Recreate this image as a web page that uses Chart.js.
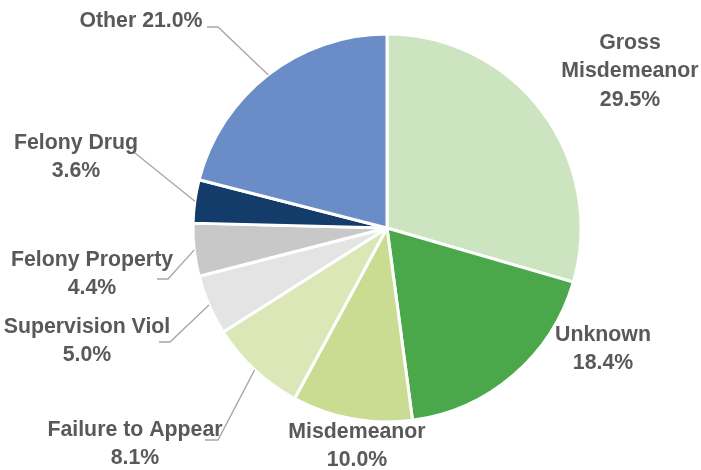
<!DOCTYPE html>
<html lang="en">
<head>
  <meta charset="UTF-8">
  <title>Offense Types</title>
  <script src="https://cdn.jsdelivr.net/npm/chart.js"></script>
  <style>
    body { margin: 0; background: #fff; }
    #wrap { width: 701px; height: 470px; }
  </style>
</head>
<body>
  <div id="wrap"><canvas id="pie" width="701" height="470"></canvas></div>

  <script>
    const categories = ['Gross Misdemeanor', 'Unknown', 'Misdemeanor', 'Failure to Appear',
                        'Supervision Viol', 'Felony Property', 'Felony Drug', 'Other'];
    const shares = [29.5, 18.4, 10.0, 8.1, 5.0, 4.4, 3.6, 21.0];
    const sliceColors = ['#cce5c0', '#4aa84b', '#c9dc91', '#dbe7b7',
                         '#e4e4e4', '#c8c8c8', '#133c6a', '#6a8cc7'];

    // label text lines, label centre (x, first line y), leader elbow/end (or null)
    const labelLines = [
      ['Gross', 'Misdemeanor', '29.5%'],
      ['Unknown', '18.4%'],
      ['Misdemeanor', '10.0%'],
      ['Failure to Appear', '8.1%'],
      ['Supervision Viol', '5.0%'],
      ['Felony Property', '4.4%'],
      ['Felony Drug', '3.6%'],
      ['Other 21.0%']
    ];
    const labelPos = [[630, 43], [603, 335], [357, 432], [135, 430],
                      [87, 327], [92, 260], [76, 143], [141, 21]];
    const leaders = [null, null, null,
                     [[218, 440], [205, 440]],
                     [[170, 342], [159, 342]],
                     [[168, 279], [157, 279]],
                     [[135, 153]],
                     [[218, 27], [207, 27]]];

    const labelPlugin = {
      id: 'pieLabels',
      afterDatasetsDraw(chart) {
        const ctx = chart.ctx;
        const arcs = chart.getDatasetMeta(0).data;
        ctx.save();
        ctx.strokeStyle = '#a6a6a6';
        ctx.lineWidth = 1.3;
        arcs.forEach((arc, i) => {
          if (!leaders[i]) return;
          const mid = (arc.startAngle + arc.endAngle) / 2;
          const r = arc.outerRadius;
          ctx.beginPath();
          ctx.moveTo(arc.x + Math.cos(mid) * r, arc.y + Math.sin(mid) * r);
          leaders[i].forEach(p => ctx.lineTo(p[0], p[1]));
          ctx.stroke();
        });
        ctx.fillStyle = '#595959';
        ctx.font = 'bold 21.3px "Liberation Sans", Arial, sans-serif';
        ctx.textAlign = 'center';
        ctx.textBaseline = 'middle';
        labelLines.forEach((lines, i) => {
          lines.forEach((t, k) => {
            ctx.fillText(t, labelPos[i][0], labelPos[i][1] + k * 28.5);
          });
        });
        ctx.restore();
      }
    };

    new Chart(document.getElementById('pie'), {
      type: 'pie',
      data: {
        labels: categories,
        datasets: [{
          data: shares,
          backgroundColor: sliceColors,
          borderColor: '#ffffff',
          borderWidth: 3,
          radius: 194
        }]
      },
      options: {
        responsive: false,
        animation: false,
        layout: { padding: { left: 73, right: 0, top: 0, bottom: 14 } },
        plugins: {
          legend: { display: false },
          tooltip: { enabled: false }
        }
      },
      plugins: [labelPlugin]
    });
  </script>
</body>
</html>
